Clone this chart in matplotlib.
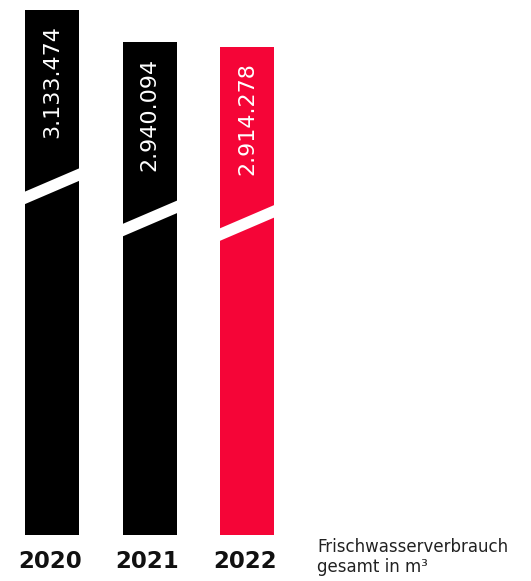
import matplotlib
matplotlib.use("Agg")
import matplotlib.pyplot as plt
from matplotlib.patches import Polygon

years = ["2020", "2021", "2022"]
values = [3133474, 2940094, 2914278]
labels = ["3.133.474", "2.940.094", "2.914.278"]
colors = ["#000000", "#000000", "#f50537"]
caption = "Frischwasserverbrauch\ngesamt in m³"

W, H = 531, 581
fig = plt.figure(figsize=(W / 100, H / 100), dpi=100)

# axes spans full width, bottom at y=535px, top at y=10px
ax = fig.add_axes([0, (H - 535) / H, 1, 525 / H])
unit = 97.5
ax.set_xlim(-52 / unit, (W - 52) / unit)
ax.set_ylim(0, max(values))
ax.axis("off")

bar_w = 54 / unit
xs = list(range(len(values)))
ax.bar(xs, values, width=bar_w, color=colors, linewidth=0)

# decorative break: white slanted stripe ~182px below top of each bar
px = max(values) / 525
for x, v in zip(xs, values):
    yl = v - 182 * px
    rise = 24 * px
    thick = 12.5 * px
    x0, x1 = x - bar_w / 2 - 0.01, x + bar_w / 2 + 0.01
    ax.add_patch(Polygon([(x0, yl), (x1, yl + rise), (x1, yl + rise - thick), (x0, yl - thick)],
                         closed=True, facecolor="white", edgecolor="none", zorder=3))

for x, v, lab in zip(xs, values, labels):
    ax.annotate(lab, (x, v), xytext=(0, -15), textcoords="offset pixels",
                rotation=90, ha="center", va="top", color="white",
                fontsize=16, family="DejaVu Sans", zorder=4)
    ax.annotate(years[x], (x, 0), xytext=(-2, -26), textcoords="offset pixels",
                ha="center", va="center", color="#111111", fontsize=16.5,
                fontweight="bold", family="DejaVu Sans", annotation_clip=False)

fig.text(317 / W, 1 - 538 / H, caption, ha="left", va="top", fontsize=12,
         color="#222222", family="DejaVu Sans", linespacing=1.15)

fig.savefig("out.png", dpi=100)
